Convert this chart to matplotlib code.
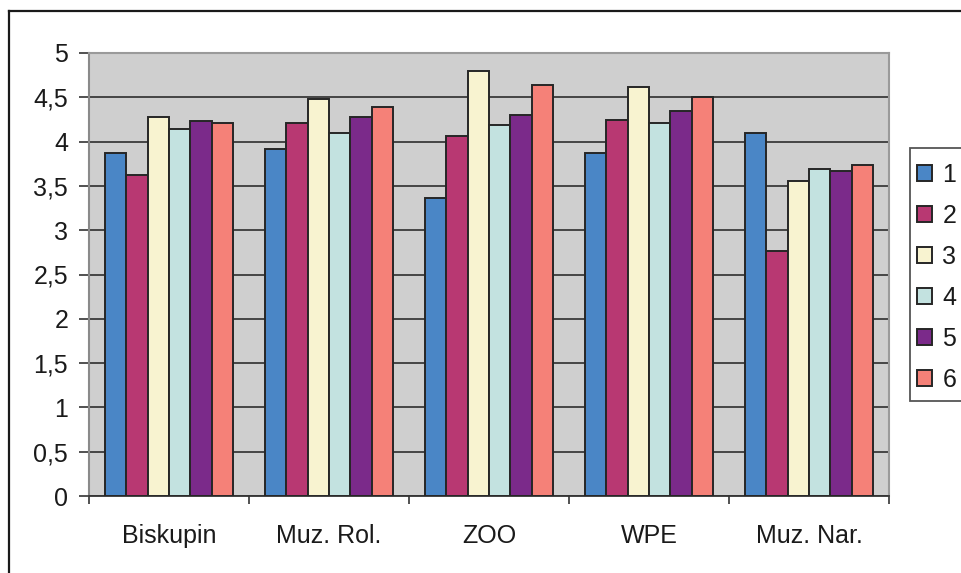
import matplotlib
matplotlib.use("Agg")
import matplotlib.pyplot as plt
import numpy as np
from matplotlib.patches import Rectangle
from matplotlib.lines import Line2D

categories = ["Biskupin", "Muz. Rol.", "ZOO", "WPE", "Muz. Nar."]
series_names = ["1", "2", "3", "4", "5", "6"]
s1 = [3.87, 3.92, 3.36, 3.87, 4.10]
s2 = [3.62, 4.21, 4.06, 4.24, 2.77]
s3 = [4.28, 4.48, 4.80, 4.62, 3.56]
s4 = [4.14, 4.10, 4.19, 4.21, 3.69]
s5 = [4.23, 4.28, 4.30, 4.35, 3.67]
s6 = [4.21, 4.39, 4.64, 4.50, 3.74]
series = [s1, s2, s3, s4, s5, s6]
colors = ["#4A86C6", "#B83872", "#F8F3D0", "#C3E2E0", "#7B2A8A", "#F58178"]
yticks = [0, 0.5, 1, 1.5, 2, 2.5, 3, 3.5, 4, 4.5, 5]
ytick_labels = ["0", "0,5", "1", "1,5", "2", "2,5", "3", "3,5", "4", "4,5", "5"]

plt.rcParams['font.family'] = ['Liberation Sans', 'DejaVu Sans']
W, H = 962, 573
fig = plt.figure(figsize=(W / 100, H / 100), dpi=100)
fig.patch.set_facecolor("white")
ax = fig.add_axes([89 / W, 1 - 496 / H, (889 - 89) / W, (496 - 53) / H])
ax.set_facecolor("#CFCFCF")

n = len(series)
x = np.arange(len(categories))
bw = 0.805 / n
handles = []
for i, (vals, c) in enumerate(zip(series, colors)):
    b = ax.bar(x - 0.805 / 2 + bw * (i + 0.5), vals, width=bw, color=c,
               edgecolor="#262626", linewidth=1.4, zorder=3, label=series_names[i])
    handles.append(b)

ax.set_xlim(-0.5, len(categories) - 0.5)
ax.set_ylim(0, 5)
ax.set_yticks(yticks)
ax.set_yticklabels(ytick_labels)
ax.yaxis.grid(True, color="#3a3a3a", linewidth=1.3, zorder=1)
ax.set_axisbelow(True)

ax.set_xticks(np.arange(len(categories) + 1) - 0.5)
ax.set_xticklabels([])
ax.set_xticks(x, minor=True)
ax.set_xticklabels(categories, minor=True)
ax.tick_params(axis="x", which="major", length=6, width=1.2, color="#333333", direction="out")
ax.tick_params(axis="x", which="minor", length=0, pad=20, labelsize=18, labelcolor="#1a1a1a")
ax.tick_params(axis="y", length=7, width=1.2, color="#333333", pad=8, labelsize=18, labelcolor="#1a1a1a")

for side in ["top", "right"]:
    ax.spines[side].set_color("#9a9a9a")
    ax.spines[side].set_linewidth(1.5)
ax.spines["left"].set_color("#8a8a8a")
ax.spines["left"].set_linewidth(1.5)
ax.spines["bottom"].set_color("#333333")
ax.spines["bottom"].set_linewidth(1.3)

# outer frame (top and left visible)
fig.add_artist(Line2D([9 / W, 9 / W], [0, 1 - 11 / H], transform=fig.transFigure,
                      color="#1a1a1a", linewidth=1.6))
fig.add_artist(Line2D([9 / W, 1], [1 - 11 / H, 1 - 11 / H], transform=fig.transFigure,
                      color="#1a1a1a", linewidth=1.6))

# legend frame
fig.add_artist(Rectangle((910 / W, 1 - 401 / H), 70 / W, (401 - 148) / H,
                         transform=fig.transFigure, facecolor="white",
                         edgecolor="#555555", linewidth=1.3))
leg = fig.legend(handles=handles, labels=series_names, loc="upper left",
                 bbox_to_anchor=(912 / W, 1 - 158 / H), frameon=False,
                 fontsize=18, handlelength=0.62, handleheight=0.62,
                 handletextpad=0.4, labelspacing=0.68, borderpad=0.2,
                 borderaxespad=0)
for t in leg.get_texts():
    t.set_color("#1a1a1a")

fig.savefig("out.png", dpi=100)
